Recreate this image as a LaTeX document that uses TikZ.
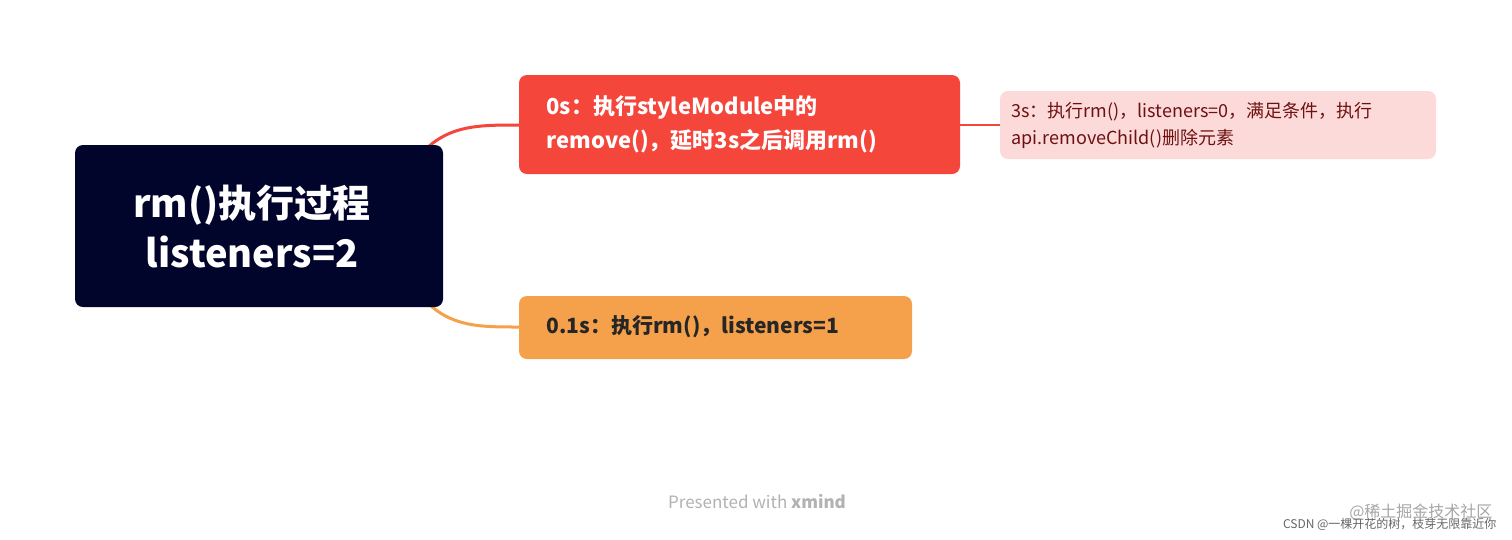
\documentclass[tikz,border=0pt]{standalone}
\usepackage{fontspec}
\setmainfont{Noto Sans CJK SC}
\newfontfamily\cjkb{Noto Sans CJK SC Bold}
\begin{document}
\begin{tikzpicture}[x=1pt,y=-1pt,
  box/.style={rounded corners=8pt,inner sep=0pt},
  lbl/.style={align=left,anchor=west,font=\bfseries}]
\useasboundingbox[fill=white] (0,0) rectangle (1512,539);
\definecolor{navy}{HTML}{02052B}
\definecolor{redc}{HTML}{F5463C}
\definecolor{pinkc}{HTML}{FDDADA}
\definecolor{orc}{HTML}{F5A04A}
\definecolor{dred}{HTML}{6E1010}
\draw[redc,line width=3pt] (425,150) .. controls (450,125) and (480,125) .. (519,125);
\draw[orc,line width=3pt] (425,300) .. controls (450,327) and (480,327) .. (519,327);
\draw[redc,line width=2pt] (960,125) -- (1000,125);
\fill[navy,box] (75,145) rectangle (443,307);
\node (root) at (259,226) {};
\node[text=white,font=\fontsize{38}{50}\selectfont\bfseries,align=center] at (252,226) {rm()执行过程\\listeners=2};
\fill[redc,box] (519,75) rectangle (960,174);
\node[lbl,text=white,font=\fontsize{22}{34}\selectfont\bfseries] (a) at (543,124) {0s：执行styleModule中的\\remove()，延时3s之后调用rm()};
\fill[pinkc,box] (1000,91) rectangle (1436,159);
\node[anchor=west,align=left,text=dred,font=\fontsize{18}{27}\selectfont] (b) at (1008,125) {3s：执行rm()，listeners=0，满足条件，执行\\api.removeChild()删除元素};
\fill[orc,box] (519,296) rectangle (912,359);
\node[lbl,text=black!85,font=\fontsize{21}{28}\selectfont\bfseries] (c) at (543,327) {0.1s：执行rm()，listeners=1};
\node[text=black!30,font=\fontsize{17}{20}\selectfont] (f) at (757,502) {Presented with \textbf{xmind}};
\node[text=black!35,font=\fontsize{16}{18}\selectfont,anchor=east] (w1) at (1496,512) {@稀土掘金技术社区};
\node[text=black!60,font=\fontsize{12}{14}\selectfont,anchor=east] (w2) at (1500,524) {CSDN @一棵开花的树，枝芽无限靠近你};
\end{tikzpicture}
\end{document}
